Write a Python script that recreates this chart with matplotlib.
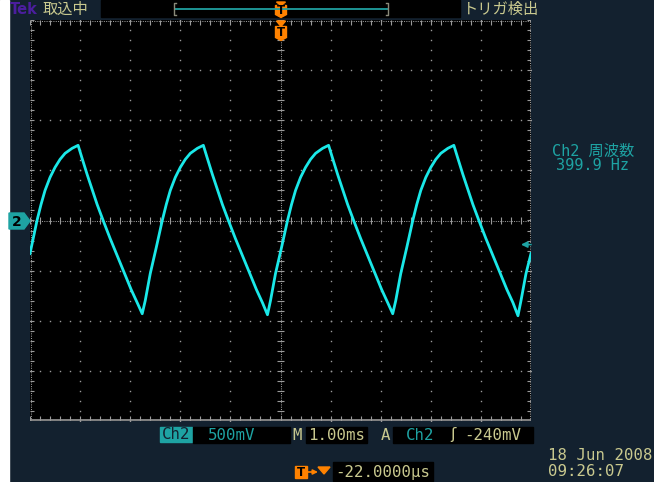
import numpy as np
import matplotlib
matplotlib.use("Agg")
import matplotlib.pyplot as plt
from matplotlib.patches import Rectangle, Polygon

# Ch2 trace: time from left edge (ms), voltage (V)
trace_t = [0.00, 0.14, 0.22, 0.30, 0.40, 0.50, 0.60, 0.70, 0.84, 0.96,
           1.04, 1.14, 1.24, 1.34, 1.46, 1.60, 1.74, 1.88, 2.02, 2.14, 2.24,
           2.30, 2.40, 2.52, 2.64, 2.72, 2.80, 2.90, 3.00, 3.10, 3.20, 3.34, 3.46,
           3.54, 3.64, 3.74, 3.84, 3.96, 4.10, 4.24, 4.38, 4.52, 4.64, 4.74,
           4.80, 4.90, 5.02, 5.14, 5.22, 5.30, 5.40, 5.50, 5.60, 5.70, 5.84, 5.96,
           6.04, 6.14, 6.24, 6.34, 6.46, 6.60, 6.74, 6.88, 7.02, 7.14, 7.24,
           7.30, 7.40, 7.52, 7.64, 7.72, 7.80, 7.90, 8.00, 8.10, 8.20, 8.34, 8.46,
           8.54, 8.64, 8.74, 8.84, 8.96, 9.10, 9.24, 9.38, 9.52, 9.64, 9.74,
           9.80, 9.90, 10.00]
trace_v = [-0.33, 0.00, 0.16, 0.30, 0.43, 0.53, 0.61, 0.67, 0.72, 0.75,
           0.62, 0.46, 0.31, 0.16, 0.00, -0.18, -0.35, -0.52, -0.69, -0.82, -0.93,
           -0.80, -0.53, -0.27, 0.00, 0.16, 0.30, 0.43, 0.53, 0.61, 0.67, 0.72, 0.75,
           0.62, 0.46, 0.31, 0.16, 0.00, -0.18, -0.35, -0.52, -0.69, -0.82, -0.94,
           -0.80, -0.53, -0.27, 0.00, 0.16, 0.30, 0.43, 0.53, 0.61, 0.67, 0.72, 0.75,
           0.62, 0.46, 0.31, 0.16, 0.00, -0.18, -0.35, -0.52, -0.69, -0.82, -0.93,
           -0.80, -0.53, -0.27, 0.00, 0.16, 0.30, 0.43, 0.53, 0.61, 0.67, 0.72, 0.75,
           0.62, 0.46, 0.31, 0.16, 0.00, -0.18, -0.35, -0.52, -0.69, -0.82, -0.95,
           -0.80, -0.53, -0.33]

trig_level = -0.24  # V
volts_per_div = 0.5
n_xdiv, n_ydiv = 10, 8

# readout texts
status_text = "取込中"
trig_status = "トリガ検出"
meas_label = "Ch2 周波数"
meas_value = "399.9 Hz"
ch_scale = "500mV"
time_scale = "1.00ms"
trig_pos = "-22.0000µs"
date_text = "18 Jun 2008"
time_text = "09:26:07"

NAVY = "#13212f"
KHAKI = "#c9c98f"
TEAL = "#1ea3a3"
TRACE = "#1ae8e8"
ORANGE = "#ff8200"
GRID = "#9a9a9a"
MONO = ["DejaVu Sans Mono", "Noto Sans CJK JP"]
CJK = ["Noto Sans CJK JP", "DejaVu Sans"]

W, H = 654, 482
fig = plt.figure(figsize=(W / 100, H / 100), dpi=100, facecolor=NAVY)

# ---- scope screen ----
x0, x1, y0, y1 = 30, 531, 20, 421
ax = fig.add_axes([x0 / W, 1 - y1 / H, (x1 - x0) / W, (y1 - y0) / H])
ax.set_facecolor("black")
ax.set_xlim(0, n_xdiv)
ax.set_ylim(-volts_per_div * n_ydiv / 2, volts_per_div * n_ydiv / 2)
for s in ax.spines.values():
    s.set_visible(False)
ax.set_xticks([])
ax.set_yticks([])

ymin, ymax = ax.get_ylim()
xs_fine = np.arange(0, n_xdiv + 0.001, 0.2)
ys_fine = np.arange(ymin, ymax + 0.001, volts_per_div / 5)

# plain graticule lines: single dots every fifth of a division
for gx in range(1, n_xdiv):
    if gx == n_xdiv // 2:
        continue
    ax.plot(np.full_like(ys_fine, gx), ys_fine, ls="none", marker="s", ms=1.0,
            mec="none", mfc=GRID)
for k in range(1, n_ydiv):
    gy = ymin + k * volts_per_div
    if abs(gy) < 1e-9:
        continue
    ax.plot(xs_fine, np.full_like(xs_fine, gy), ls="none", marker="s", ms=1.0,
            mec="none", mfc=GRID)

# centre cross and border: fine dotted lines with minor ticks
dot = dict(color=GRID, lw=0.75, ls=(0, (1, 1.2)))
ax.axhline(0, **dot)
ax.axvline(n_xdiv / 2, **dot)
ax.axhline(ymax - 0.005, **dot)
ax.axhline(ymin + 0.005, color=GRID, lw=1.2)
ax.axvline(0.01, **dot)
ax.axvline(n_xdiv - 0.01, **dot)
ax.vlines(xs_fine, -0.03, 0.03, color=GRID, lw=0.8)
ax.hlines(ys_fine, n_xdiv / 2 - 0.06, n_xdiv / 2 + 0.06, color=GRID, lw=0.8)
ax.vlines(xs_fine, ymax - 0.05, ymax, color=GRID, lw=0.8)
ax.vlines(xs_fine, ymin, ymin + 0.05, color=GRID, lw=0.8)
ax.hlines(ys_fine, 0, 0.08, color=GRID, lw=0.8)
ax.hlines(ys_fine, n_xdiv - 0.08, n_xdiv, color=GRID, lw=0.8)

ax.plot(trace_t, trace_v, color=TRACE, lw=2.0, solid_joinstyle="round", zorder=5)

# trigger level arrow on the right edge
ax.annotate("", xy=(n_xdiv - 0.2, trig_level), xytext=(n_xdiv, trig_level),
            arrowprops=dict(arrowstyle="-|>", color=TEAL, lw=1.2,
                            mutation_scale=9, shrinkA=0, shrinkB=0), zorder=6)

# ---- overlay in pixel coordinates for the readouts ----
ov = fig.add_axes([0, 0, 1, 1])
ov.set_xlim(0, W)
ov.set_ylim(H, 0)
ov.axis("off")
ov.patch.set_alpha(0)
ov.set_zorder(3)

ov.add_patch(Rectangle((0, 0), 9, H, color="white"))

# top bar
ov.text(10, 9, "Tek", color="#4b1e9e", fontsize=10.5, fontweight="bold",
        family="DejaVu Sans", va="center", ha="left")
ov.text(43, 9, status_text, color=KHAKI, fontsize=11, family=CJK, va="center", ha="left")
ov.add_patch(Rectangle((101, 0), 359, 17, color="black"))
ov.plot([175, 388], [9, 9], color="#20a0a0", lw=1.3)
ov.plot([176, 174, 174, 176], [3, 3, 15, 15], color="#8a8a7a", lw=1)
ov.plot([386, 388, 388, 386], [3, 3, 15, 15], color="#8a8a7a", lw=1)
ov.text(463, 9, trig_status, color=KHAKI, fontsize=11, family=CJK, va="center", ha="left")


def trig_marker(cx, ytop, tri_h, box_h):
    ov.add_patch(Polygon([(cx - 4.5, ytop), (cx + 4.5, ytop), (cx, ytop + tri_h)],
                         color=ORANGE))
    by = ytop + tri_h
    ov.add_patch(Polygon([(cx - 5.5, by), (cx + 5.5, by), (cx + 5.5, by + box_h - 2),
                          (cx, by + box_h + 1), (cx - 5.5, by + box_h - 2)], color=ORANGE))
    ov.text(cx, by + box_h / 2, "T", color="black", fontsize=8.5, fontweight="bold",
            family="DejaVu Sans", va="center", ha="center")


trig_marker(281, 2, 3.5, 11)
trig_marker(281, 21, 5.5, 13)

# channel marker on the left
ov.add_patch(Polygon([(9, 213), (24, 213), (30, 221), (24, 229), (9, 229)], color=TEAL))
ov.text(17, 221.5, "2", color="black", fontsize=10, fontweight="bold",
        family="DejaVu Sans", va="center", ha="center")

# measurement on the right
ov.text(593, 151, meas_label, color=TEAL, fontsize=11, family=MONO, va="center", ha="center")
ov.text(593, 166, meas_value, color=TEAL, fontsize=11, family=MONO, va="center", ha="center")

# bottom readouts
fs = 11.3
ov.add_patch(Rectangle((160, 427), 32, 15, color=TEAL))
ov.text(176, 434.5, "Ch2", color=NAVY, fontsize=fs, family=MONO, va="center", ha="center")
ov.add_patch(Rectangle((193, 427), 97, 16, color="black"))
ov.text(208, 435, ch_scale, color=TEAL, fontsize=fs, family=MONO, va="center", ha="left")
ov.text(292, 435, "M", color=KHAKI, fontsize=fs, family=MONO, va="center", ha="left")
ov.add_patch(Rectangle((306, 427), 61, 16, color="black"))
ov.text(308, 435, time_scale, color=KHAKI, fontsize=fs, family=MONO, va="center", ha="left")
ov.text(381, 435, "A", color=KHAKI, fontsize=fs, family=MONO, va="center", ha="left")
ov.add_patch(Rectangle((393, 427), 140, 16, color="black"))
ov.text(406, 435, "Ch2", color=TEAL, fontsize=fs, family=MONO, va="center", ha="left")
ov.text(450, 435, "ʃ", color=KHAKI, fontsize=fs, family="DejaVu Sans", va="center", ha="left")
ov.text(464, 435, f"{trig_level * 1000:.0f}mV", color=KHAKI, fontsize=fs, family=MONO,
        va="center", ha="left")

ov.add_patch(Rectangle((295, 466), 12, 12, color=ORANGE))
ov.text(301, 472, "T", color="black", fontsize=8.5, fontweight="bold",
        family="DejaVu Sans", va="center", ha="center")
ov.annotate("", xy=(318, 472), xytext=(307, 472),
            arrowprops=dict(arrowstyle="-|>", color=ORANGE, lw=1.2,
                            mutation_scale=7, shrinkA=0, shrinkB=0))
ov.add_patch(Polygon([(318, 467), (330, 467), (324, 474)], color=ORANGE))
ov.add_patch(Rectangle((333, 462), 100, 19, color="black"))
ov.text(335, 472, trig_pos, color=KHAKI, fontsize=fs, family=MONO, va="center", ha="left")

ov.text(548, 455, date_text, color=KHAKI, fontsize=fs, family=MONO, va="center", ha="left")
ov.text(548, 472, time_text, color=KHAKI, fontsize=fs, family=MONO, va="center", ha="left")

fig.savefig("out.png", dpi=100, facecolor=NAVY)
